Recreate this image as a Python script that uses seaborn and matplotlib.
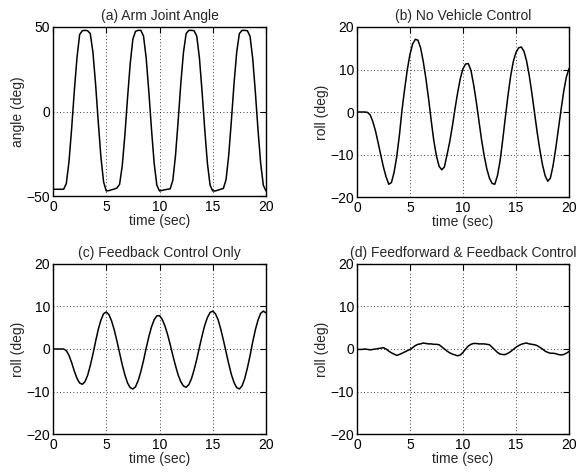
import numpy as np
import pandas as pd
import matplotlib
matplotlib.use("Agg")
import matplotlib.pyplot as plt
import seaborn as sns

# ---------------- data ----------------
time_sec = [i * 0.25 for i in range(81)]

arm_angle = [
    -46, -46, -46, -46, -46, -42.6, -29.7, -10.0, 12.1, 31.8, 45.5, 47.8,
    48, 47.8, 46.1, 34.9, 16.1, -6.3, -27.0, -41.7, -47, -46.8, -46.3, -45.9,
    -45.3, -43.1, -32.2, -13.8, 8.1, 28.4, 42.8, 47.5, 48, 48, 44.6, 31.6,
    11.6, -10.7, -30.7, -43.6, -47, -46.7, -46.3, -46.0, -45.8, -40.7, -26.3, -5.7,
    16.4, 35.0, 46.1, 48, 48, 47.8, 44.6, 31.6, 11.6, -10.7, -30.7, -43.6,
    -47, -47, -46.5, -46, -45.5, -40.3, -25.9, -5.4, 16.6, 35.1, 46.1, 48,
    48, 47.8, 44.6, 31.6, 11.6, -10.7, -30.7, -43.6, -47,
]

roll_no_control = [
    0, 0, 0, 0, -0.1, -0.7, -2.3, -4.5, -7.3, -10.2, -13.0, -15.3,
    -17.0, -16.6, -14.2, -10.5, -5.5, 0.5, 5.5, 10.0, 13.6, 16.0, 17.1, 16.9,
    15.1, 11.9, 7.9, 3.2, -2.0, -6.8, -10.4, -12.8, -13.6, -12.9, -10.0, -7.0,
    -3.3, 0.8, 4.6, 7.9, 10.2, 11.3, 11.4, 9.8, 6.5, 2.5, -2.0, -6.5,
    -10.3, -13.4, -15.6, -16.8, -17.0, -15.0, -11.5, -6.5, -1.2, 4.0, 8.5, 11.9,
    14.0, 15.1, 15.3, 14.3, 12.0, 8.6, 4.4, -0.2, -4.8, -8.9, -12.4, -15.0,
    -16.3, -15.5, -12.6, -8.6, -4.0, 0.5, 4.8, 8.2, 10.2,
]

roll_feedback = [
    0, 0, 0, 0, 0, -0.4, -1.5, -3.2, -5.2, -6.9, -8.0, -8.3,
    -7.7, -6.2, -3.9, -1.2, 1.8, 4.6, 6.8, 8.3, 8.7, 8.1, 6.6, 4.5,
    1.9, -0.9, -3.7, -6.1, -8.0, -9.1, -9.4, -8.9, -7.4, -5.3, -2.7, 0.2,
    2.9, 5.2, 6.9, 7.8, 7.85, 7.0, 5.5, 3.5, 1.1, -1.5, -3.9, -6.1,
    -7.7, -8.7, -9.0, -8.4, -7.0, -4.9, -2.4, 0.4, 3.1, 5.6, 7.4, 8.6,
    8.9, 8.3, 6.9, 4.7, 2.1, -0.7, -3.5, -6.0, -7.9, -9.1, -9.4, -8.7,
    -7.0, -4.5, -1.6, 1.6, 4.5, 6.8, 8.4, 8.9, 8.5,
]

roll_ff_fb = [
    -0.1, -0.1, -0.1, 0.0, -0.1, -0.2, -0.1, 0.0, 0.1, 0.2, 0.3, 0.0,
    -0.5, -0.9, -1.2, -1.5, -1.3, -1.0, -0.7, -0.4, -0.1, 0.3, 0.8, 1.1,
    1.2, 1.4, 1.3, 1.2, 1.2, 1.1, 1.1, 1.0, 0.5, 0.0, -0.5, -0.9,
    -1.2, -1.4, -1.6, -1.4, -0.8, 0.0, 0.7, 1.1, 1.3, 1.3, 1.2, 1.2,
    1.2, 1.1, 1.0, 0.4, -0.2, -0.8, -1.2, -1.3, -1.3, -1.0, -0.6, -0.1,
    0.4, 0.8, 1.1, 1.3, 1.4, 1.2, 1.1, 1.0, 0.8, 0.4, 0.0, -0.5,
    -0.8, -1.0, -1.0, -1.1, -1.3, -1.4, -1.3, -1.0, -0.6,
]

titles = ["(a) Arm Joint Angle", "(b) No Vehicle Control",
          "(c) Feedback Control Only", "(d) Feedforward & Feedback Control"]
ylabels = ["angle (deg)", "roll (deg)", "roll (deg)", "roll (deg)"]
xlabel = "time (sec)"
x_ticks = [0, 5, 10, 15, 20]
angle_ticks = [-50, 0, 50]
roll_ticks = [-20, -10, 0, 10, 20]

# ---------------- styling ----------------
sns.set_style("white")
plt.rcParams["font.family"] = ["Liberation Sans", "DejaVu Sans"]
FS = 10

fig = plt.figure(figsize=(5.8, 4.72), dpi=100)

positions = [
    [0.0914, 0.5847, 0.3672, 0.3581],
    [0.6155, 0.5826, 0.3655, 0.3602],
    [0.0914, 0.0805, 0.3672, 0.3602],
    [0.6155, 0.0805, 0.3655, 0.3602],
]
series = [arm_angle, roll_no_control, roll_feedback, roll_ff_fb]
ylims = [(-50, 50), (-20, 20), (-20, 20), (-20, 20)]
yticks = [angle_ticks, roll_ticks, roll_ticks, roll_ticks]

for pos, vals, title, ylab, ylim, yt in zip(positions, series, titles, ylabels, ylims, yticks):
    ax = fig.add_axes(pos)
    df = pd.DataFrame({"t": time_sec, "v": vals})
    sns.lineplot(data=df, x="t", y="v", ax=ax, color="black", linewidth=1.1)
    ax.set_xlim(0, 20)
    ax.set_ylim(*ylim)
    ax.set_xticks(x_ticks)
    ax.set_yticks(yt)
    ax.grid(True, color="black", linestyle=(0, (1, 3)), linewidth=0.6)
    for sp in ax.spines.values():
        sp.set_visible(True)
        sp.set_color("black")
        sp.set_linewidth(1.0)
    ax.tick_params(direction="in", length=4, width=0.8, top=True, right=True,
                   labelsize=FS, colors="black")
    ax.tick_params(axis="x", pad=3)
    ax.tick_params(axis="y", pad=2)
    ax.set_title(title, fontsize=FS, pad=5)
    ax.set_xlabel(xlabel, fontsize=FS, labelpad=0)
    ax.set_ylabel(ylab, fontsize=FS, labelpad=1)

fig.savefig("out.png", dpi=100, facecolor="white")
